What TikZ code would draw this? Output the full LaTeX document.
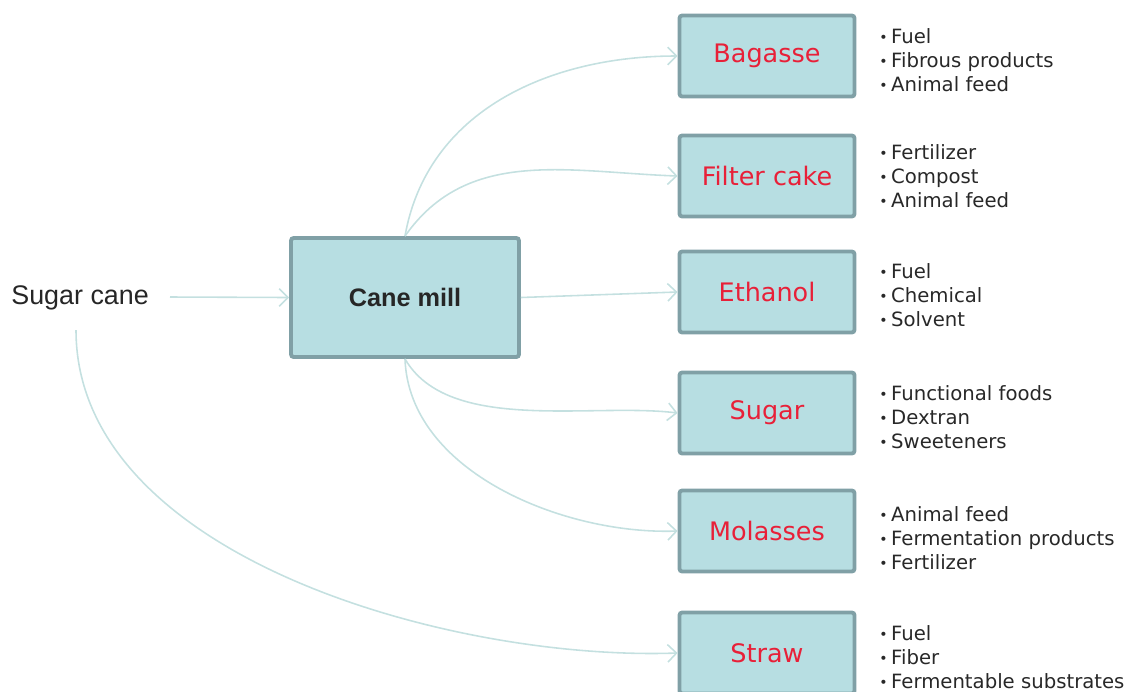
\documentclass[tikz,border=0pt]{standalone}
\usepackage{fontspec}
\setmainfont{DejaVu Sans}
\newfontfamily\arialf{Liberation Sans}
\usetikzlibrary{arrows.meta}
\definecolor{boxfill}{RGB}{183,222,226}
\definecolor{boxline}{RGB}{128,160,166}
\definecolor{arrowc}{RGB}{196,224,224}
\definecolor{labred}{RGB}{232,32,56}
\definecolor{txtc}{RGB}{40,40,40}
\newcommand\mybul{\raisebox{0.1ex}{\fontsize{8}{8}\selectfont•}\hspace{2pt}}
\tikzset{
  prodbox/.style={draw=boxline, fill=boxfill, line width=2.2pt, rounded corners=1.5pt,
    minimum width=3.5cm, minimum height=1.62cm, inner sep=0pt,
    font=\fontsize{14.5}{17}\selectfont, text=labred},
  millbox/.style={draw=boxline, fill=boxfill, line width=2.2pt, rounded corners=1.5pt,
    minimum width=4.56cm, minimum height=2.38cm, inner sep=0pt,
    font=\arialf\bfseries\fontsize{14.4}{17}\selectfont, text=black!85},
  blist/.style={anchor=west, align=left, inner sep=0pt, text=txtc,
    font=\fontsize{11.2}{13.7}\selectfont},
  conn/.style={draw=arrowc, line width=0.9pt, -{Straight Barb[length=5pt,width=10pt]}}
}
\begin{document}
\begin{tikzpicture}[x=0.02cm,y=-0.02cm]
\useasboundingbox (0,0) rectangle (1133,691);
\clip (0,0) rectangle (1133,691);
\node[anchor=west, inner sep=0pt, font=\arialf\fontsize{15.3}{18}\selectfont, text=black!85] (cane) at (11,298) {Sugar cane};
\coordinate (caneR) at (170,297);
\coordinate (caneB) at (76,330);
\node[millbox] (mill) at (405,297.5) {Cane mill};
\node[prodbox] (bag) at (767,56) {Bagasse};
\node[prodbox] (fil) at (767,176) {Filter cake};
\node[prodbox] (eth) at (767,292) {Ethanol};
\node[prodbox] (sug) at (767,413) {Sugar};
\node[prodbox] (mol) at (767,531) {Molasses};
\node[prodbox] (str) at (767,653) {Straw};

\node[blist] (lbag) at (879,60) {\mybul Fuel\\\mybul Fibrous products\\\mybul Animal feed};
\node[blist] (lfil) at (879,176) {\mybul Fertilizer\\\mybul Compost\\\mybul Animal feed};
\node[blist] (leth) at (879,295) {\mybul Fuel\\\mybul Chemical\\\mybul Solvent};
\node[blist] (lsug) at (879,417) {\mybul Functional foods\\\mybul Dextran\\\mybul Sweeteners};
\node[blist] (lmol) at (879,538) {\mybul Animal feed\\\mybul Fermentation products\\\mybul Fertilizer};
\node[blist] (lstr) at (879,657) {\mybul Fuel\\\mybul Fiber\\\mybul Fermentable substrates};

\draw[conn] (caneR) -- (mill.west);
\draw[conn] (mill.north) to[out=80,in=180] (bag.west);
\draw[conn] (mill.north) to[out=55,in=178] (fil.west);
\draw[conn] (mill.east) -- (eth.west);
\draw[conn] (mill.south) to[out=-60,in=173,looseness=0.8] (sug.west);
\draw[conn] (mill.south) to[out=-88,in=182,looseness=0.9] (mol.west);
\draw[conn] (caneB) to[out=-90,in=182,looseness=0.85] (str.west);
\end{tikzpicture}
\end{document}
